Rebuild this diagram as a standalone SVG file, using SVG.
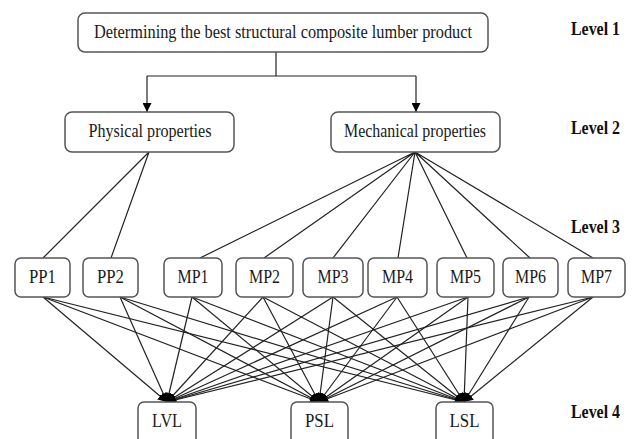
<svg xmlns="http://www.w3.org/2000/svg" width="632" height="439" viewBox="0 0 632 439">
<style>
.box{fill:#fff;stroke:#555;stroke-width:1.5}
.t{font-family:"Liberation Serif",serif;font-size:19px;fill:#1a1a1a;text-anchor:middle}
.lv{font-family:"Liberation Serif",serif;font-size:18px;font-weight:bold;fill:#111;text-anchor:start}
.c{stroke:#222;stroke-width:1.2;fill:none}
</style>
<defs>
<marker id="ah" viewBox="0 0 10 10" refX="10" refY="5" markerWidth="9" markerHeight="9" orient="auto" markerUnits="userSpaceOnUse">
<path d="M0,0 L10,5 L0,10 z" fill="#000"/>
</marker>
<marker id="ah2" viewBox="0 0 10 10" refX="10" refY="5" markerWidth="9" markerHeight="9" orient="auto" markerUnits="userSpaceOnUse">
<path d="M0,0 L10,5 L0,10 z" fill="#000"/>
</marker>
</defs>
<g id="connectors">
<path class="c" d="M276,52 V76 M147,76 H416"/>
<path class="c" d="M147,76 V112" marker-end="url(#ah2)"/>
<path class="c" d="M416,76 V112" marker-end="url(#ah2)"/>
<path class="c" d="M149,152 L43,258 M149,152 L111,258"/>
<path class="c" d="M415,152 L200,258 M415,152 L264,258 M415,152 L333,258 M415,152 L398,258 M415,152 L467,258 M415,152 L530,258 M415,152 L593,258"/>
<g marker-end="url(#ah)">
<path class="c" d="M43,297 L167,402"/><path class="c" d="M43,297 L319,402"/><path class="c" d="M43,297 L464,402"/>
<path class="c" d="M120,297 L167,402"/><path class="c" d="M120,297 L319,402"/><path class="c" d="M120,297 L464,402"/>
<path class="c" d="M192,297 L167,402"/><path class="c" d="M192,297 L319,402"/><path class="c" d="M192,297 L464,402"/>
<path class="c" d="M263,297 L167,402"/><path class="c" d="M263,297 L319,402"/><path class="c" d="M263,297 L464,402"/>
<path class="c" d="M333,297 L167,402"/><path class="c" d="M333,297 L319,402"/><path class="c" d="M333,297 L464,402"/>
<path class="c" d="M397,297 L167,402"/><path class="c" d="M397,297 L319,402"/><path class="c" d="M397,297 L464,402"/>
<path class="c" d="M468,297 L167,402"/><path class="c" d="M468,297 L319,402"/><path class="c" d="M468,297 L464,402"/>
<path class="c" d="M529,297 L167,402"/><path class="c" d="M529,297 L319,402"/><path class="c" d="M529,297 L464,402"/>
<path class="c" d="M593,297 L167,402"/><path class="c" d="M593,297 L319,402"/><path class="c" d="M593,297 L464,402"/>
</g>
</g>
<g id="goal"><rect class="box" x="78" y="13" width="410" height="39" rx="7"/><text class="t" x="283" y="38" textLength="378" lengthAdjust="spacingAndGlyphs">Determining the best structural composite lumber product</text></g>
<g id="physical"><rect class="box" x="65" y="112" width="169" height="40" rx="7"/><text class="t" x="150" y="137" textLength="123" lengthAdjust="spacingAndGlyphs">Physical properties</text></g>
<g id="mechanical"><rect class="box" x="331" y="112" width="169" height="40" rx="7"/><text class="t" x="415" y="137" textLength="142" lengthAdjust="spacingAndGlyphs">Mechanical properties</text></g>
<g id="pp1"><rect class="box" x="15" y="258" width="55" height="39" rx="6"/><text class="t" x="42.5" y="283" textLength="27" lengthAdjust="spacingAndGlyphs">PP1</text></g>
<g id="pp2"><rect class="box" x="83" y="258" width="55" height="39" rx="6"/><text class="t" x="110.5" y="283" textLength="27" lengthAdjust="spacingAndGlyphs">PP2</text></g>
<g id="mp1"><rect class="box" x="164" y="258" width="58" height="39" rx="6"/><text class="t" x="193" y="283" textLength="31" lengthAdjust="spacingAndGlyphs">MP1</text></g>
<g id="mp2"><rect class="box" x="236" y="258" width="57" height="39" rx="6"/><text class="t" x="264.5" y="283" textLength="31" lengthAdjust="spacingAndGlyphs">MP2</text></g>
<g id="mp3"><rect class="box" x="303" y="258" width="60" height="39" rx="6"/><text class="t" x="333" y="283" textLength="31" lengthAdjust="spacingAndGlyphs">MP3</text></g>
<g id="mp4"><rect class="box" x="368" y="258" width="59" height="39" rx="6"/><text class="t" x="397.5" y="283" textLength="31" lengthAdjust="spacingAndGlyphs">MP4</text></g>
<g id="mp5"><rect class="box" x="437" y="258" width="57" height="39" rx="6"/><text class="t" x="465.5" y="283" textLength="31" lengthAdjust="spacingAndGlyphs">MP5</text></g>
<g id="mp6"><rect class="box" x="503" y="258" width="55" height="39" rx="6"/><text class="t" x="530.5" y="283" textLength="31" lengthAdjust="spacingAndGlyphs">MP6</text></g>
<g id="mp7"><rect class="box" x="568" y="258" width="57" height="39" rx="6"/><text class="t" x="596.5" y="283" textLength="31" lengthAdjust="spacingAndGlyphs">MP7</text></g>
<g id="lvl"><rect class="box" x="138" y="402" width="58" height="42" rx="6"/><text class="t" x="167" y="427" textLength="30" lengthAdjust="spacingAndGlyphs">LVL</text></g>
<g id="psl"><rect class="box" x="291" y="402" width="57" height="42" rx="6"/><text class="t" x="319.5" y="427" textLength="29" lengthAdjust="spacingAndGlyphs">PSL</text></g>
<g id="lsl"><rect class="box" x="436" y="402" width="57" height="42" rx="6"/><text class="t" x="464.5" y="427" textLength="30" lengthAdjust="spacingAndGlyphs">LSL</text></g>
<g id="levels">
<text class="lv" x="571" y="35" textLength="49" lengthAdjust="spacingAndGlyphs">Level 1</text>
<text class="lv" x="571" y="134" textLength="49" lengthAdjust="spacingAndGlyphs">Level 2</text>
<text class="lv" x="571" y="233" textLength="49" lengthAdjust="spacingAndGlyphs">Level 3</text>
<text class="lv" x="571" y="418" textLength="49" lengthAdjust="spacingAndGlyphs">Level 4</text>
</g>
</svg>
